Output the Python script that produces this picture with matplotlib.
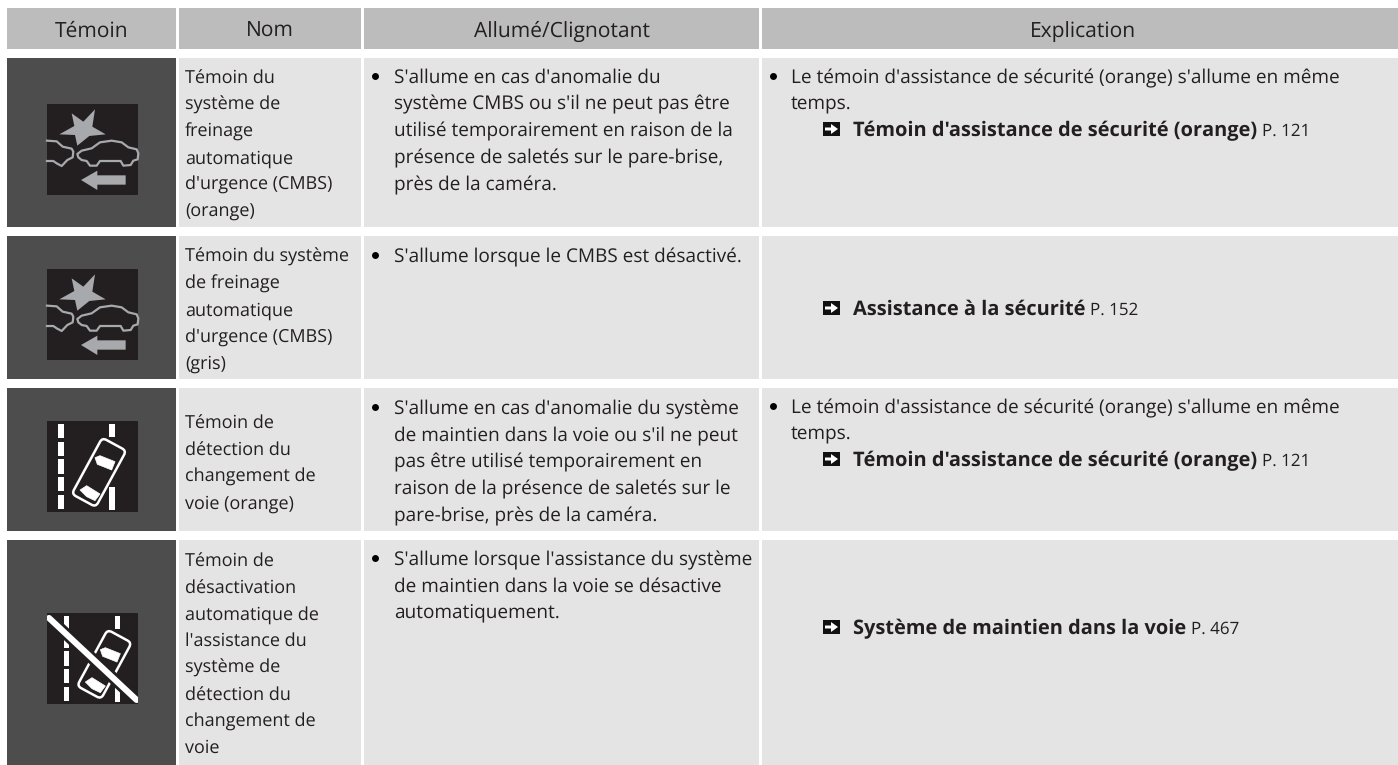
import matplotlib
matplotlib.use("Agg")
import matplotlib.pyplot as plt
from matplotlib.patches import Rectangle, Polygon, FancyBboxPatch
from matplotlib.transforms import Affine2D

FONT = "Open Sans"
plt.rcParams["font.family"] = [FONT, "DejaVu Sans"]
plt.rcParams["text.hinting"] = "no_hinting"
plt.rcParams["text.hinting_factor"] = 1

# ---- table content ----
headers = ["Témoin", "Nom", "Allumé/Clignotant", "Explication"]
header_x = [92, 270, 562, 1083]
names = [
    ["Témoin du", "système de", "freinage", "automatique", "d'urgence (CMBS)", "(orange)"],
    ["Témoin du système", "de freinage", "automatique", "d'urgence (CMBS)", "(gris)"],
    ["Témoin de", "détection du", "changement de", "voie (orange)"],
    ["Témoin de", "désactivation", "automatique de", "l'assistance du", "système de", "détection du", "changement de", "voie"],
]
states = [
    ["S'allume en cas d'anomalie du", "système CMBS ou s'il ne peut pas être", "utilisé temporairement en raison de la", "présence de saletés sur le pare-brise,", "près de la caméra."],
    ["S'allume lorsque le CMBS est désactivé."],
    ["S'allume en cas d'anomalie du système", "de maintien dans la voie ou s'il ne peut", "pas être utilisé temporairement en", "raison de la présence de saletés sur le", "pare-brise, près de la caméra."],
    ["S'allume lorsque l'assistance du système", "de maintien dans la voie se désactive", "automatiquement."],
]
notes = [
    ["Le témoin d'assistance de sécurité (orange) s'allume en même", "temps."],
    [],
    ["Le témoin d'assistance de sécurité (orange) s'allume en même", "temps."],
    [],
]
refs = [
    ("Témoin d'assistance de sécurité (orange)", "P. 121"),
    ("Assistance à la sécurité", "P. 152"),
    ("Témoin d'assistance de sécurité (orange)", "P. 121"),
    ("Système de maintien dans la voie", "P. 467"),
]

# ---- layout (pixels) ----
col_edges = [(7, 176), (179, 361), (364, 759), (762, 1398)]
header_edge = (8, 49)
row_edges = [(58, 227), (236, 379), (388, 531), (540, 765)]
icon_tops = [104, 269, 421, 613]
icon_left, icon_size = 47, 91
name_base = [83, 262, 428, 566]
state_base = [83, 262, 414, 565]
note_base = [83, None, 413, None]
ref_base = [136, 315, 466, 634]
LH = 26.75
FS_NAME = 13.1
FS_STATE = 13.5
FS_HEAD = 15.4
FS_NOTE = 14.0
FS_BOLD = 14.1
FS_PAGE = 12.5
TXT = "#231f20"
HEAD, BODY, DARK, ICON = "#bcbcbc", "#e4e4e4", "#4d4d4d", "#231f20"
GREY = "#a7a9ac"

fig = plt.figure(figsize=(13.98, 7.65), dpi=100)
ax = fig.add_axes([0, 0, 1, 1])
ax.set_xlim(0, 1398)
ax.set_ylim(765, 0)
ax.axis("off")


def rect(x0, x1, y0, y1, c, z=1):
    ax.add_patch(Rectangle((x0, y0), x1 - x0, y1 - y0, fc=c, ec="none", zorder=z))


for (x0, x1), label, hx in zip(col_edges, headers, header_x):
    rect(x0, x1, *header_edge, HEAD)
    ax.text(hx, 37, label, ha="center", va="baseline", color=TXT, fontsize=FS_HEAD)
for r, (y0, y1) in enumerate(row_edges):
    for c, (x0, x1) in enumerate(col_edges):
        rect(x0, x1, y0, y1, DARK if c == 0 else BODY)


def lines(x, base, items, fs):
    for i, s in enumerate(items):
        ax.text(x, base + i * LH, s, ha="left", va="baseline", fontsize=fs, color=TXT)


for r in range(4):
    lines(185, name_base[r], names[r], FS_NAME)
    lines(394, state_base[r], states[r], FS_STATE)
    ax.plot([375], [state_base[r] - 7], "o", ms=5, color="black", mew=0, zorder=3)
    if notes[r]:
        lines(791, note_base[r], notes[r], FS_NOTE)
        ax.plot([773], [note_base[r] - 7], "o", ms=5, color="black", mew=0, zorder=3)
    y = ref_base[r]
    rect(823, 840, y - 14, y, "#111111", 3)
    ax.add_patch(Polygon([(825, y - 8.5), (831, y - 8.5), (831, y - 12), (838, y - 7), (831, y - 2), (831, y - 5.5), (825, y - 5.5)],
                         fc="white", ec="none", zorder=4))
    t = ax.text(853, y, refs[r][0], ha="left", va="baseline", fontsize=FS_BOLD, fontweight="bold", color=TXT)
    fig.canvas.draw()
    bb = t.get_window_extent()
    ax.text(bb.x1 + 5, y, refs[r][1], ha="left", va="baseline", fontsize=FS_PAGE, color=TXT)


# ---- icons, drawn in 3x crop units ----
def frame(r):
    return Affine2D().scale(1 / 3).translate(icon_left, icon_tops[r]) + ax.transData


def clip_icon(r):
    return Rectangle((icon_left, icon_tops[r]), icon_size, icon_size, transform=ax.transData)


star = [(144, 16), (109, 53), (74, 28), (82, 66), (37, 91), (84, 93), (91, 125), (127, 96), (176, 91), (136, 68)]
star_l = [(0, 110), (29, 112), (47, 128), (74, 134), (79, 143), (77, 160), (61, 168), (44, 186), (29, 178), (19, 171), (0, 171)]
car_r = [(94, 160), (91, 150), (104, 140), (134, 133), (159, 115), (194, 110), (224, 115), (244, 130), (269, 136), (274, 148), (272, 166), (259, 170), (251, 183), (229, 185), (221, 171), (159, 171), (149, 185), (129, 185), (119, 171), (104, 168)]
arrow = [(102, 228), (151, 200), (151, 214), (236, 214), (236, 242), (151, 242), (151, 258)]

for r in (0, 1):
    rect(icon_left, icon_left + icon_size, icon_tops[r], icon_tops[r] + icon_size, ICON, 3)
    tr = frame(r)
    ax.add_patch(Polygon(star, fc=GREY, ec="none", transform=tr, zorder=4))
    ax.add_patch(Polygon(arrow, fc=GREY, ec="none", transform=tr, zorder=4))
    ax.add_patch(Polygon(car_r, fill=False, ec=GREY, lw=1.6, joinstyle="round", transform=tr, zorder=4))
    ax.plot(*zip(*star_l), color=GREY, lw=1.6, solid_joinstyle="round", transform=tr, zorder=4)

dash_y = [(9, 52), (62, 105), (115, 159), (169, 211), (222, 264)]
right_y = [(9, 47), (197, 267)]
wind_f = [(144, 110), (159, 104), (204, 122), (194, 147), (169, 137), (151, 130)]
wind_r = [(99, 207), (119, 194), (159, 219), (144, 239), (119, 227)]


def lane_icon(r, dx):
    rect(icon_left, icon_left + icon_size, icon_tops[r], icon_tops[r] + icon_size, ICON, 3)
    tr = frame(r)
    for y0, y1 in dash_y:
        ax.add_patch(Rectangle((34 + dx, y0), 17, y1 - y0, fc="white", ec="none", transform=tr, zorder=4))
    for y0, y1 in right_y:
        ax.add_patch(Rectangle((187 + dx, y0), 17, y1 - y0, fc="white", ec="none", transform=tr, zorder=4))
    car = Affine2D().rotate_deg_around(156 + dx, 154, 28.5) + tr
    ax.add_patch(FancyBboxPatch((156 + dx - 41, 154 - 96), 82, 192, boxstyle="round,pad=0,rounding_size=14",
                                fc=ICON, ec="white", lw=1.8, transform=car, zorder=5))
    ax.add_patch(Polygon([(x + dx, y) for x, y in wind_f], fc="white", ec="white", lw=.5, joinstyle="round", transform=tr, zorder=6))
    ax.add_patch(Polygon([(x + dx, y) for x, y in wind_r], fc="white", ec="white", lw=.5, joinstyle="round", transform=tr, zorder=6))


lane_icon(2, 0)
lane_icon(3, 16)
tr = frame(3)
strike_x, strike_y = [6, 269], [15, 261]
ln, = ax.plot(strike_x, strike_y, color=ICON, lw=8.5, solid_capstyle="butt", transform=tr, zorder=7)
ln2, = ax.plot(strike_x, strike_y, color="white", lw=4.4, solid_capstyle="round", transform=tr, zorder=8)
ln.set_clip_path(clip_icon(3))
ln2.set_clip_path(clip_icon(3))

fig.savefig("out.png", dpi=100, facecolor="white")
